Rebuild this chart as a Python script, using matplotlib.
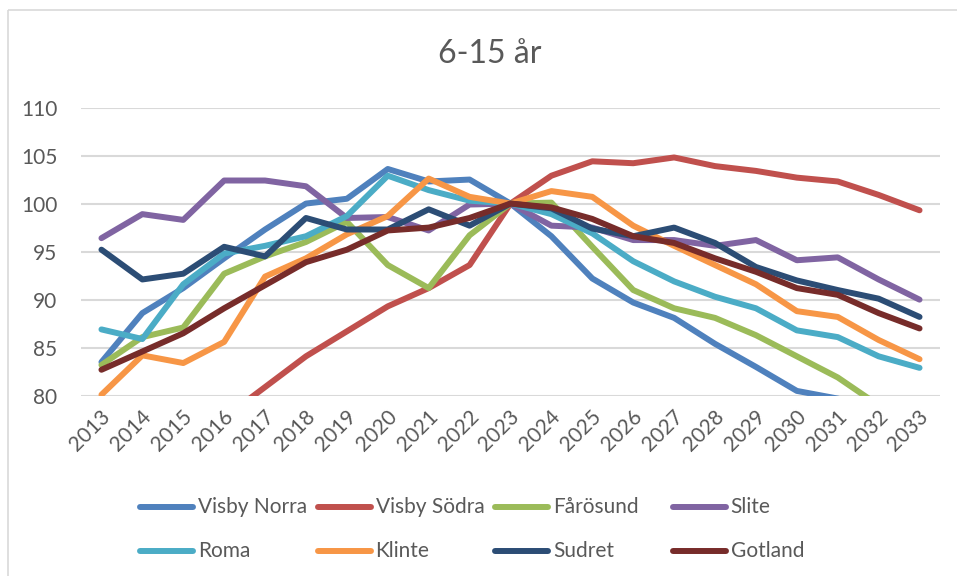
import matplotlib.pyplot as plt
from matplotlib.lines import Line2D
from matplotlib.patches import Rectangle
from matplotlib.transforms import ScaledTranslation

years = [str(y) for y in range(2013, 2034)]

visby_norra = [83.5, 88.6, 91.2, 94.3, 97.3, 100.0, 100.5, 103.6, 102.3, 102.5, 100.0,
               96.6, 92.2, 89.7, 88.1, 85.4, 83.0, 80.5, 79.7, 78.6, 77.6]
visby_sodra = [72.0, 74.0, 76.0, 77.7, 80.9, 84.1, 86.7, 89.3, 91.2, 93.6, 100.0,
               102.9, 104.4, 104.2, 104.8, 103.9, 103.4, 102.7, 102.3, 100.9, 99.3]
farosund = [83.2, 86.1, 87.1, 92.7, 94.5, 96.0, 98.1, 93.6, 91.2, 96.7, 100.0,
            100.1, 95.5, 91.0, 89.1, 88.1, 86.3, 84.1, 81.9, 79.0, 77.0]
slite = [96.4, 98.9, 98.3, 102.4, 102.4, 101.8, 98.5, 98.6, 97.2, 99.9, 100.0,
         97.7, 97.5, 96.2, 96.2, 95.6, 96.2, 94.1, 94.4, 92.1, 90.0]
roma = [86.9, 85.9, 91.6, 94.8, 95.6, 96.6, 98.7, 102.9, 101.4, 100.3, 100.0,
        98.9, 96.9, 94.0, 91.9, 90.3, 89.1, 86.8, 86.1, 84.1, 82.9]
klinte = [80.1, 84.2, 83.4, 85.6, 92.4, 94.3, 96.8, 98.7, 102.6, 100.7, 100.0,
          101.3, 100.7, 97.7, 95.6, 93.6, 91.6, 88.8, 88.2, 85.8, 83.8]
sudret = [95.2, 92.1, 92.7, 95.5, 94.5, 98.5, 97.3, 97.3, 99.4, 97.7, 100.0,
          99.5, 97.4, 96.6, 97.5, 95.9, 93.4, 92.0, 91.0, 90.1, 88.2]
gotland = [82.7, 84.6, 86.5, 89.1, 91.5, 93.9, 95.2, 97.2, 97.5, 98.5, 100.0,
           99.6, 98.4, 96.6, 95.9, 94.3, 92.9, 91.2, 90.5, 88.6, 87.0]

names = ["Visby Norra", "Visby Södra", "Fårösund", "Slite",
         "Roma", "Klinte", "Sudret", "Gotland"]
series = [visby_norra, visby_sodra, farosund, slite, roma, klinte, sudret, gotland]
colors = ["#4F81BD", "#C0504D", "#9BBB59", "#8064A2",
          "#4BACC6", "#F79646", "#2C4D75", "#772C2A"]

plt.rcParams['font.family'] = ['Lato', 'DejaVu Sans']
text_color = "#595959"

W, H = 957, 576
fig = plt.figure(figsize=(W / 100, H / 100), dpi=100, facecolor="white")

# overlay in pixel coords for the chart frame and legend
over = fig.add_axes([0, 0, 1, 1], zorder=0)
over.set_xlim(0, W)
over.set_ylim(H, 0)
over.axis("off")
over.add_patch(Rectangle((8, 10), 960, 600, fill=False, edgecolor="#D9D9D9", lw=1.2))

ax = fig.add_axes([81 / W, 1 - 395.7 / H, (940 - 81) / W, (395.7 - 107.5) / H], zorder=1)
ax.patch.set_alpha(0)
for name, vals, c in zip(names, series, colors):
    ax.plot(years, vals, color=c, lw=4.3, solid_capstyle="round", solid_joinstyle="round")

ax.set_xlim(-0.5, len(years) - 0.5)
ax.set_ylim(80, 110)
ax.set_yticks(range(80, 111, 5))
ax.yaxis.grid(True, color="#D9D9D9", lw=1.5)
ax.set_axisbelow(True)
for s in ax.spines.values():
    s.set_visible(False)
ax.tick_params(axis="both", length=0, labelsize=15, labelcolor=text_color)
ax.tick_params(axis="y", pad=17)
ax.tick_params(axis="x", pad=13)
shift = ScaledTranslation(0.06, 0, fig.dpi_scale_trans)
for lab in ax.get_xticklabels():
    lab.set_rotation(45)
    lab.set_ha("right")
    lab.set_va("center")
    lab.set_rotation_mode("anchor")
    lab.set_transform(lab.get_transform() + shift)

fig.text(490 / W, 1 - 54 / H, "6-15 år", fontsize=23, color=text_color,
         ha="center", va="center")

# legend, 2 rows x 4 equal columns
for i, (name, c) in enumerate(zip(names, colors)):
    col, row = i % 4, i // 4
    x0 = 140 + col * 177.5
    y0 = 507 + row * 44
    over.add_line(Line2D([x0, x0 + 53], [y0, y0], color=c, lw=4.3, solid_capstyle="round"))
    over.text(x0 + 58, y0, name, fontsize=15, color=text_color, ha="left", va="center")

fig.savefig("out.png", dpi=100, facecolor="white")
